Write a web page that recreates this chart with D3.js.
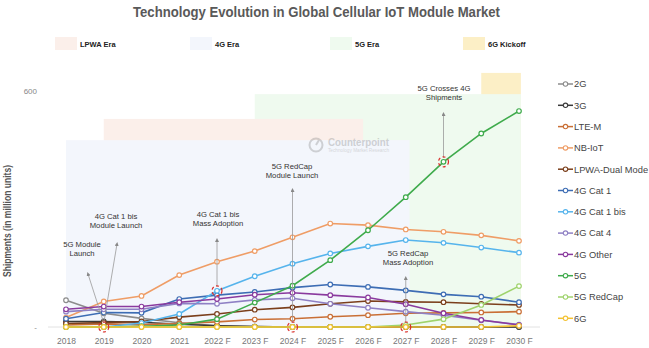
<!DOCTYPE html>
<html>
<head>
<meta charset="utf-8">
<script src="https://cdn.jsdelivr.net/npm/d3@7"></script>
<style>
  body { margin: 0; background: #fff; }
  svg { font-family: "Liberation Sans", Arial, sans-serif; }
</style>
</head>
<body>
<script>
const W = 649, H = 348;

// categories
const years = ['2018', '2019', '2020', '2021', '2022 F', '2023 F', '2024 F',
               '2025 F', '2026 F', '2027 F', '2028 F', '2029 F', '2030 F'];

// shipments, million units
const s2G       = [68, 35, 22, 11, 3, 1, 0, 0, 0, 0, 0, 0, 0];
const s3G       = [14, 14, 12, 7, 3, 1, 0, 0, 0, 0, 0, 0, 0];
const sLTEM     = [5, 8, 6, 9, 13, 19, 21, 26, 30, 35, 36, 37, 39];
const sNBIoT    = [24, 65, 79, 132, 166, 193, 228, 263, 259, 248, 242, 233, 219];
const sLPWADual = [9, 11, 14, 25, 33, 44, 50, 59, 66, 64, 63, 59, 56];
const sCat1     = [21, 37, 36, 71, 81, 89, 100, 108, 102, 93, 83, 77, 63];
const sCat1bis  = [0, 0, 10, 33, 92, 129, 161, 187, 205, 221, 214, 202, 189];
const sCat4     = [39, 45, 45, 60, 59, 69, 73, 59, 49, 39, 30, 17, 6];
const s4GOther  = [45, 52, 52, 63, 71, 82, 87, 81, 75, 58, 35, 18, 5];
const s5G       = [0, 0, 2, 5, 20, 62, 105, 170, 246, 330, 420, 492, 549];
const sRedCap   = [0, 0, 0, 0, 0, 0, 0, 0, 0, 5, 20, 56, 104];
const s6G       = [0, 0, 0, 0, 0, 0, 0, 0, 0, 0, 0, 0, 3];

const seriesNames = ['2G', '3G', 'LTE-M', 'NB-IoT', 'LPWA-Dual Mode', '4G Cat 1',
                     '4G Cat 1 bis', '4G Cat 4', '4G Other', '5G', '5G RedCap', '6G'];
const seriesValues = [s2G, s3G, sLTEM, sNBIoT, sLPWADual, sCat1,
                      sCat1bis, sCat4, s4GOther, s5G, sRedCap, s6G];
const seriesColors = ['#8c8c8c', '#3a3a3a', '#c96f36', '#ef9d66', '#7b3f1c', '#3d6db4',
                      '#56b4ec', '#8f80c4', '#8a3a9e', '#3fab4c', '#9fd36c', '#f3c233'];

// eras: start / end as category index, height in million units
const eraNames  = ['6G Kickoff', '5G Era', 'LPWA Era', '4G Era'];
const eraStart  = [11, 5, 1, 0];
const eraEnd    = [12.05, 12.05, 7.87, 9.1];
const eraTop    = [646, 592, 529, 475];
const eraColors = ['#fcefc6', '#effaef', '#fbefea', '#f3f6fc'];
const eraLegendOrder = ['LPWA Era', '4G Era', '5G Era', '6G Kickoff'];

const yTicks = [0, 600];

const svg = d3.select('body').append('svg')
    .attr('width', W)
    .attr('height', H);

const x = d3.scalePoint().domain(years).range([66, 519]);
const xi = d3.scaleLinear().domain([0, years.length - 1]).range([66, 519]);
const y = d3.scaleLinear().domain([0, 600]).range([327, 91]);

// era backgrounds
svg.append('g').selectAll('rect')
    .data(eraNames)
    .enter()
    .append('rect')
    .attr('x', (d, i) => xi(eraStart[i]))
    .attr('y', (d, i) => y(eraTop[i]))
    .attr('width', (d, i) => xi(eraEnd[i]) - xi(eraStart[i]))
    .attr('height', (d, i) => y(0) - y(eraTop[i]))
    .attr('fill', (d, i) => eraColors[i]);

// title
svg.append('text')
    .attr('x', 133).attr('y', 17)
    .attr('textLength', 367).attr('lengthAdjust', 'spacingAndGlyphs')
    .attr('font-size', 15.5).attr('font-weight', 'bold').attr('fill', '#595959')
    .text('Technology Evolution in Global Cellular IoT Module Market');

// era legend
const eraLegX = [55, 190, 330, 463];
const eraLeg = svg.append('g').selectAll('g')
    .data(eraLegendOrder)
    .enter()
    .append('g')
    .attr('transform', (d, i) => `translate(${eraLegX[i]},37)`);
eraLeg.append('rect')
    .attr('width', 22).attr('height', 13)
    .attr('fill', d => eraColors[eraNames.indexOf(d)]);
eraLeg.append('text')
    .attr('x', 25).attr('y', 9.5)
    .attr('font-size', 7.5).attr('font-weight', 'bold').attr('fill', '#222')
    .text(d => d);

// watermark
const wm = svg.append('g').attr('opacity', 0.35);
wm.append('circle').attr('cx', 316).attr('cy', 145).attr('r', 6.5)
    .attr('fill', 'none').attr('stroke', '#888').attr('stroke-width', 2);
wm.append('line').attr('x1', 316).attr('y1', 145).attr('x2', 319).attr('y2', 140)
    .attr('stroke', '#888').attr('stroke-width', 2);
wm.append('text').attr('x', 328).attr('y', 146)
    .attr('textLength', 61).attr('lengthAdjust', 'spacingAndGlyphs')
    .attr('font-size', 11).attr('font-weight', 'bold').attr('fill', '#888')
    .text('Counterpoint');
wm.append('text').attr('x', 328).attr('y', 152)
    .attr('textLength', 61).attr('lengthAdjust', 'spacingAndGlyphs')
    .attr('font-size', 4.5).attr('fill', '#999')
    .text('Technology Market Research');

// baseline and y ticks
svg.append('line')
    .attr('x1', 48).attr('x2', 540)
    .attr('y1', y(0)).attr('y2', y(0))
    .attr('stroke', '#e2e2e2').attr('stroke-width', 1);

svg.append('g').selectAll('text')
    .data(yTicks)
    .enter()
    .append('text')
    .attr('x', 37)
    .attr('y', d => y(d) + 3)
    .attr('text-anchor', 'end')
    .attr('font-size', 8).attr('fill', '#888')
    .text(d => d === 0 ? '-' : d);

svg.append('text')
    .attr('transform', 'translate(11,221) rotate(-90)')
    .attr('text-anchor', 'middle')
    .attr('textLength', 112).attr('lengthAdjust', 'spacingAndGlyphs')
    .attr('font-size', 10).attr('font-weight', 'bold').attr('fill', '#555')
    .text('Shipments (in million units)');

// x axis labels
const xAxis = svg.append('g')
    .attr('transform', `translate(0,${y(0)})`)
    .call(d3.axisBottom(x).tickSize(0).tickPadding(11));
xAxis.select('.domain').remove();
xAxis.selectAll('text')
    .attr('font-size', 8.5).attr('fill', '#777')
    .attr('font-family', '"Liberation Sans", Arial, sans-serif');

// annotations: arrows from a point up to a label
svg.append('defs').append('marker')
    .attr('id', 'arr')
    .attr('viewBox', '0 0 10 10')
    .attr('refX', 5).attr('refY', 5)
    .attr('markerWidth', 5).attr('markerHeight', 5)
    .attr('orient', 'auto')
    .append('path').attr('d', 'M0,0L10,5L0,10z').attr('fill', '#888');

const notes = [
    {cat: '2019', val: 0, tx: 88, ty: 272, lx: 82, ly: 247, lines: ['5G Module', 'Launch']},
    {cat: '2019', val: 0, tx: 117, ty: 242, lx: 116, ly: 219, lines: ['4G Cat 1 bis', 'Module Launch']},
    {cat: '2022 F', val: sCat1bis[4], tx: null, ty: 238, lx: 218, ly: 217, lines: ['4G Cat 1 bis', 'Mass Adoption']},
    {cat: '2024 F', val: 0, tx: null, ty: 188, lx: 292, ly: 169, lines: ['5G RedCap', 'Module Launch']},
    {cat: '2027 F', val: 0, tx: null, ty: 276, lx: 408, ly: 256, lines: ['5G RedCap', 'Mass Adoption']},
    {cat: '2028 F', val: s5G[10], tx: null, ty: 112, lx: 444, ly: 91, lines: ['5G Crosses 4G', 'Shipments']}
];

const ann = svg.append('g');
notes.forEach(n => {
    const px = x(n.cat), py = y(n.val);
    ann.append('line')
        .attr('x1', px).attr('y1', py - 4)
        .attr('x2', n.tx === null ? px : n.tx).attr('y2', n.ty + 2)
        .attr('stroke', '#999').attr('stroke-width', 0.8)
        .attr('marker-end', 'url(#arr)');
    const t = ann.append('text')
        .attr('x', n.lx).attr('y', n.ly)
        .attr('text-anchor', 'middle')
        .attr('font-size', 7.7).attr('fill', '#333');
    n.lines.forEach((l, i) => {
        t.append('tspan').attr('x', n.lx).attr('dy', i === 0 ? 0 : 9).text(l);
    });
});

// series lines
const line = d3.line()
    .x((d, i) => x(years[i]))
    .y(d => y(d));

const lines = svg.append('g');
seriesValues.forEach((vals, s) => {
    lines.append('path')
        .attr('d', line(vals))
        .attr('fill', 'none')
        .attr('stroke', seriesColors[s])
        .attr('stroke-width', 1.6);
    lines.append('g').selectAll('circle')
        .data(vals)
        .enter()
        .append('circle')
        .attr('cx', (d, i) => x(years[i]))
        .attr('cy', d => y(d))
        .attr('r', 2.3)
        .attr('fill', '#fff')
        .attr('stroke', seriesColors[s])
        .attr('stroke-width', 1.2);
});

// dashed red highlight rings
ann.raise();
svg.append('g').selectAll('circle')
    .data(notes.filter((n, i) => i !== 1))
    .enter()
    .append('circle')
    .attr('cx', d => x(d.cat))
    .attr('cy', d => y(d.val))
    .attr('r', 5)
    .attr('fill', 'none')
    .attr('stroke', '#d9302c')
    .attr('stroke-width', 1.2)
    .attr('stroke-dasharray', '3,2.5');

// series legend
const leg = svg.append('g').selectAll('g')
    .data(seriesNames)
    .enter()
    .append('g')
    .attr('transform', (d, i) => `translate(558,${84 + i * 21.3})`);
leg.append('line')
    .attr('x1', 0).attr('x2', 15)
    .attr('stroke', (d, i) => seriesColors[i]).attr('stroke-width', 1.5);
leg.append('circle')
    .attr('cx', 7.5).attr('r', 2.2)
    .attr('fill', '#fff')
    .attr('stroke', (d, i) => seriesColors[i]).attr('stroke-width', 1.1);
leg.append('text')
    .attr('x', 16).attr('y', 3.3)
    .attr('font-size', 9.3).attr('fill', '#444')
    .text(d => d);
</script>
</body>
</html>
